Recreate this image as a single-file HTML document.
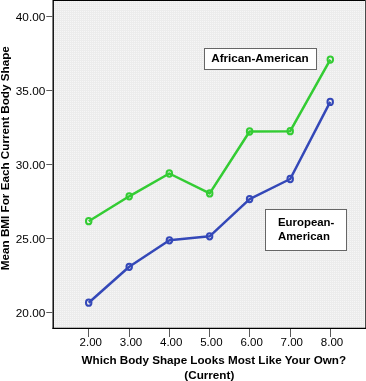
<!DOCTYPE html>
<html><head><meta charset="utf-8">
<style>
html,body{margin:0;padding:0;background:#fff;width:366px;height:381px;overflow:hidden;}
svg{display:block;will-change:transform;}
text{font-family:"Liberation Sans",sans-serif;}
</style></head>
<body>
<svg width="366" height="381" viewBox="0 0 366 381">
<defs>
<pattern id="dots" x="0" y="0" width="2" height="2" patternUnits="userSpaceOnUse">
<rect x="0" y="0" width="2" height="2" fill="#ececec"/>
<rect x="0" y="1" width="1" height="1" fill="#f6f6f6"/>
</pattern>
</defs>
<rect x="0" y="0" width="366" height="381" fill="#fff"/>
<!-- plot area -->
<rect x="53" y="0" width="312" height="328" fill="url(#dots)"/>
<line x1="53" y1="0.55" x2="365" y2="0.55" stroke="#000" stroke-width="1.1"/>
<rect x="364" y="1" width="1" height="327" fill="#f6f6f6"/>
<line x1="365.5" y1="0" x2="365.5" y2="328" stroke="#4a4a4a" stroke-width="1"/>
<line x1="53.2" y1="0" x2="53.2" y2="329" stroke="#000" stroke-width="1.4"/>
<line x1="52.5" y1="328.4" x2="366" y2="328.4" stroke="#000" stroke-width="1.3"/>

<!-- y ticks -->
<g stroke="#5a5a5a" stroke-width="1">
<line x1="46.3" y1="16.5" x2="52.5" y2="16.5"/>
<line x1="46.3" y1="90.5" x2="52.5" y2="90.5"/>
<line x1="46.3" y1="164.5" x2="52.5" y2="164.5"/>
<line x1="46.3" y1="238.5" x2="52.5" y2="238.5"/>
<line x1="46.3" y1="312.5" x2="52.5" y2="312.5"/>
</g>
<g font-size="11.8" text-anchor="end" fill="#000">
<text x="45.3" y="20.5">40.00</text>
<text x="45.3" y="94.5">35.00</text>
<text x="45.3" y="168.5">30.00</text>
<text x="45.3" y="242.5">25.00</text>
<text x="45.3" y="316.5">20.00</text>
</g>
<!-- x ticks -->
<g stroke="#5a5a5a" stroke-width="1">
<line x1="88.5" y1="329" x2="88.5" y2="337"/>
<line x1="129.5" y1="329" x2="129.5" y2="337"/>
<line x1="169.5" y1="329" x2="169.5" y2="337"/>
<line x1="209.5" y1="329" x2="209.5" y2="337"/>
<line x1="249.5" y1="329" x2="249.5" y2="337"/>
<line x1="290.5" y1="329" x2="290.5" y2="337"/>
<line x1="330.5" y1="329" x2="330.5" y2="337"/>
</g>
<g font-size="11.5" text-anchor="middle" fill="#000">
<text x="90.8" y="345.5">2.00</text>
<text x="131.0" y="345.5">3.00</text>
<text x="171.2" y="345.5">4.00</text>
<text x="211.4" y="345.5">5.00</text>
<text x="251.6" y="345.5">6.00</text>
<text x="291.8" y="345.5">7.00</text>
<text x="332.0" y="345.5">8.00</text>
</g>
<!-- axis titles -->
<text x="213.8" y="363.8" font-size="11.66" font-weight="bold" text-anchor="middle">Which Body Shape Looks Most Like Your Own?</text>
<text x="209.3" y="378.9" font-size="11.7" font-weight="bold" text-anchor="middle">(Current)</text>
<text transform="translate(8.5,158.2) rotate(-90)" x="0" y="0" font-size="11.7" font-weight="bold" text-anchor="middle">Mean BMI For Each Current Body Shape</text>

<!-- green line -->
<polyline fill="none" stroke="#33cc33" stroke-width="2.5" stroke-linejoin="round"
 points="88.7,221.2 129.2,196.3 169.3,173.5 209.7,193.4 249.6,131.5 290.2,131.2 330.3,59.6"/>
<g fill="none" stroke="#33cc33" stroke-width="2">
<ellipse cx="88.7" cy="221.2" rx="2.75" ry="3.15"/>
<ellipse cx="129.2" cy="196.3" rx="2.75" ry="3.15"/>
<ellipse cx="169.3" cy="173.5" rx="2.75" ry="3.15"/>
<ellipse cx="209.7" cy="193.4" rx="2.75" ry="3.15"/>
<ellipse cx="249.6" cy="131.5" rx="2.75" ry="3.15"/>
<ellipse cx="290.2" cy="131.2" rx="2.75" ry="3.15"/>
<ellipse cx="330.3" cy="59.6" rx="2.75" ry="3.15"/>
</g>
<!-- blue line -->
<polyline fill="none" stroke="#3448b8" stroke-width="2.5" stroke-linejoin="round"
 points="88.7,302.7 129.2,266.8 169.4,240.3 209.6,236.3 249.6,199.1 290.2,179 330.2,101.9"/>
<g fill="none" stroke="#3448b8" stroke-width="2">
<ellipse cx="88.7" cy="302.7" rx="2.75" ry="3.15"/>
<ellipse cx="129.2" cy="266.8" rx="2.75" ry="3.15"/>
<ellipse cx="169.4" cy="240.3" rx="2.75" ry="3.15"/>
<ellipse cx="209.6" cy="236.3" rx="2.75" ry="3.15"/>
<ellipse cx="249.6" cy="199.1" rx="2.75" ry="3.15"/>
<ellipse cx="290.2" cy="179" rx="2.75" ry="3.15"/>
<ellipse cx="330.2" cy="101.9" rx="2.75" ry="3.15"/>
</g>

<!-- legend labels -->
<rect x="204.5" y="48.5" width="112" height="21" fill="#fff" stroke="#666" stroke-width="1"/>
<text x="211.2" y="61.6" font-size="11.7" font-weight="bold">African-American</text>
<rect x="265.5" y="209.5" width="81" height="41" fill="#fff" stroke="#666" stroke-width="1"/>
<text x="278" y="226.4" font-size="11.4" font-weight="bold">European-</text>
<text x="278" y="239.9" font-size="11.4" font-weight="bold">American</text>
</svg>
</body></html>
